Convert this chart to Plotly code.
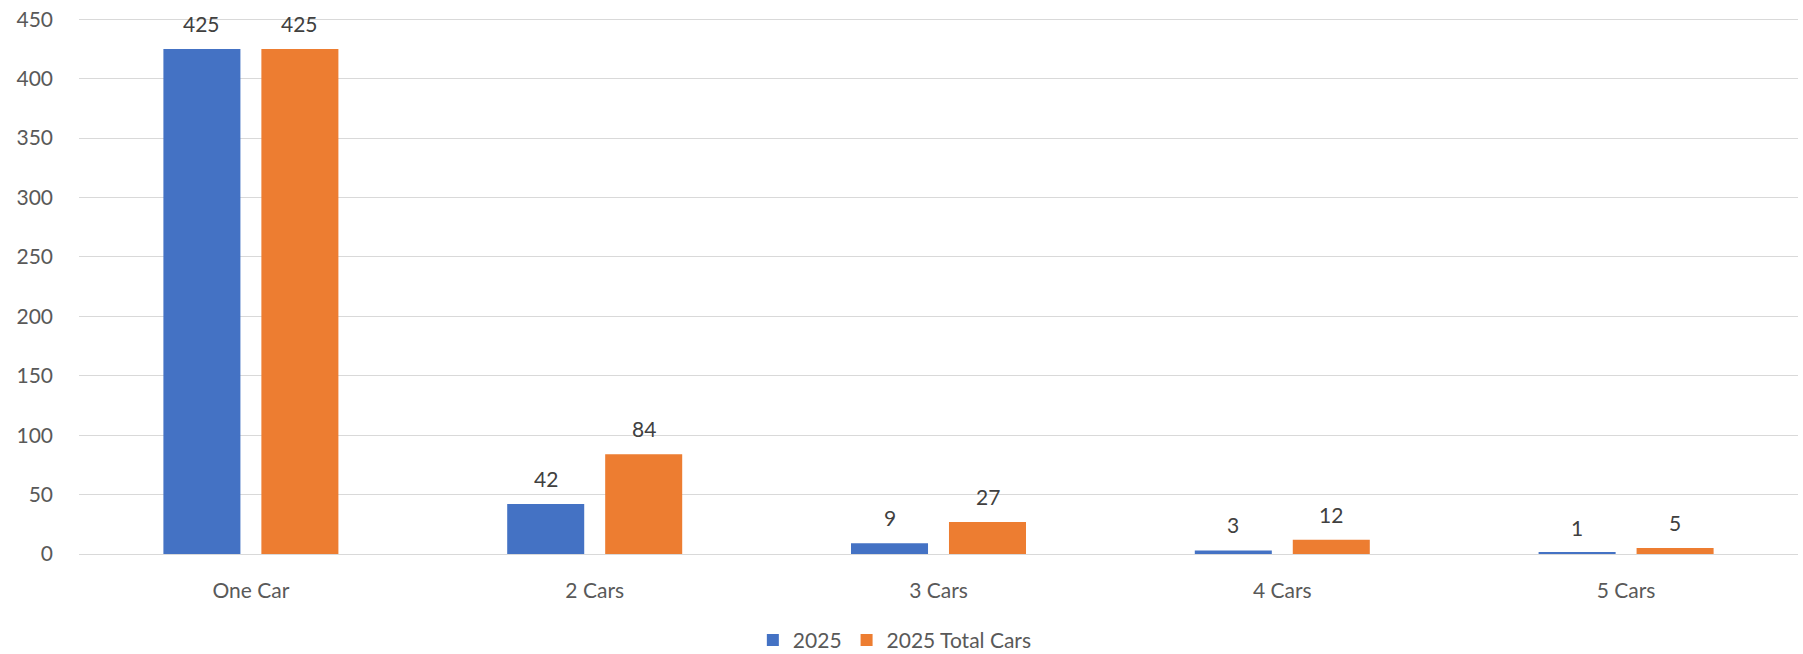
import plotly.graph_objects as go

categories = ["One Car", "2 Cars", "3 Cars", "4 Cars", "5 Cars"]
series_2025 = [425, 42, 9, 3, 1]
series_total = [425, 84, 27, 12, 5]
y_ticks = [0, 50, 100, 150, 200, 250, 300, 350, 400, 450]

FONT = "Lato, 'Open Sans', sans-serif"
FS = 21

fig = go.Figure()
fig.add_trace(go.Bar(name="2025", x=categories, y=series_2025,
                     marker=dict(color="#4472C4", line=dict(width=0))))
fig.add_trace(go.Bar(name="2025 Total Cars", x=categories, y=series_total,
                     marker=dict(color="#ED7D31", line=dict(width=0))))

annotations = []
for vals, shift in ((series_2025, -49), (series_total, 49)):
    for c, v in zip(categories, vals):
        annotations.append(dict(x=c, y=v, xref="x", yref="y", text=str(v),
                                showarrow=False, yanchor="bottom", xshift=shift,
                                yshift=11, font=dict(size=FS, color="#404040", family=FONT)))

fig.update_layout(
    width=1803, height=654,
    margin=dict(l=79, r=5, t=18, b=100, autoexpand=False),
    paper_bgcolor="white", plot_bgcolor="white",
    barmode="group", bargap=0.43, bargroupgap=0.214,
    font=dict(family=FONT, size=FS, color="#595959"),
    annotations=annotations,
    legend=dict(orientation="h", x=0.392, xanchor="left", y=-0.161, yanchor="middle",
                font=dict(size=FS, color="#595959"), traceorder="normal"),
    xaxis=dict(showline=False, showgrid=False, ticks="", ticklabelstandoff=22,
               automargin=False, tickfont=dict(size=FS, color="#595959")),
    yaxis=dict(range=[0, 451], tickvals=y_ticks, showgrid=True, gridcolor="#d9d9d9",
               gridwidth=1, zeroline=True, zerolinecolor="#d9d9d9", zerolinewidth=1,
               showline=False, ticks="", ticklabelstandoff=25, automargin=False,
               tickfont=dict(size=FS, color="#595959")),
)

fig.write_html("out.html", config={"displayModeBar": False},
               post_script="document.body.style.margin='0';")
